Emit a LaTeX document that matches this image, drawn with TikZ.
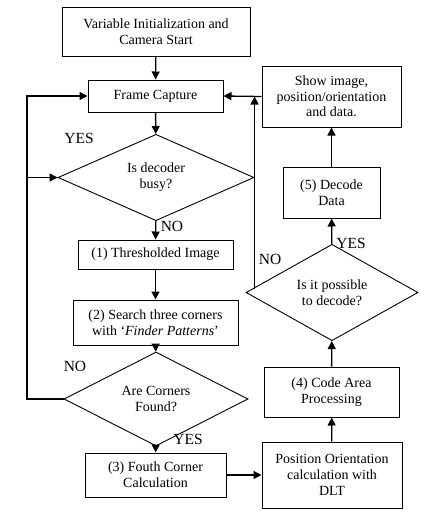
\documentclass[tikz,border=0pt]{standalone}
\usepackage{fontspec}
\setmainfont{Liberation Serif}
\usetikzlibrary{shapes.geometric,arrows.meta}
\begin{document}
\begin{tikzpicture}[x=1pt,y=-1pt,
	box/.style={draw,line width=1pt,align=center,inner sep=0pt,font=\fontsize{14}{15.7}\selectfont},
	decision/.style={draw,diamond,line width=0.9pt,align=center,inner sep=0pt,font=\fontsize{14}{15.7}\selectfont},
	flow/.style={line width=1.3pt,-{Triangle[length=8pt,width=8pt]}},
	answer/.style={font=\fontsize{15.5}{16}\selectfont,inner sep=0pt}]
	\useasboundingbox (0,0) rectangle (446,514);
	\node[box,minimum width=188,minimum height=49] (init) at (156,31.5) {Variable Initialization and\\Camera Start};
	\node[box,minimum width=135,minimum height=32] (capture) at (155.5,96) {Frame Capture};
	\node[decision,minimum width=196,minimum height=77] (busy) at (156,177.5) {Is decoder\\busy?};
	\node[box,minimum width=155,minimum height=29] (thresh) at (155.5,254.5) {(1) Thresholded Image};
	\node[box,minimum width=165,minimum height=45] (search) at (155.5,322.5) {(2) Search three corners\\with ‘\textit{Finder Patterns}’};
	\node[decision,minimum width=184,minimum height=70] (found) at (156,399) {Are Corners\\Found?};
	\node[box,minimum width=141,minimum height=44] (fourth) at (155.5,475) {(3) Fouth Corner\\Calculation};
	\node[box,minimum width=140,minimum height=66] (dlt) at (332,475) {Position Orientation\\calculation with\\DLT};
	\node[box,minimum width=135,minimum height=50] (area) at (331.5,392) {(4) Code Area\\Processing};
	\node[decision,minimum width=172,minimum height=73] (possible) at (332,292.5) {Is it possible\\to decode?};
	\node[box,minimum width=97,minimum height=51] (decode) at (331.5,192.5) {(5) Decode\\Data};
	\node[box,minimum width=139,minimum height=61] (show) at (331.5,96.5) {Show image,\\position/orientation\\and data.};
	\coordinate (railtop) at (27,96);
	\coordinate (railbot) at (27,399);
	\draw[flow] (init) -- (capture);
	\draw[flow] (capture) -- (busy);
	\draw[flow] (busy) -- (thresh);
	\draw[flow] (thresh) -- (search);
	\draw[flow] (search) -- (found);
	\draw[flow] (found) -- (fourth);
	\draw[flow] (fourth) -- (dlt);
	\draw[flow] (dlt) -- (area);
	\draw[flow] (area) -- (possible);
	\draw[flow] (possible) -- (decode);
	\draw[flow] (decode) -- (show);
	\draw[flow] (show.west) -- (capture.east);
	\draw[flow] (found.west) -- (railbot) -- (railtop) -- (capture.west);
	\draw[flow] (railbot |- busy.west) -- (busy.west);
	\draw[flow] ([xshift=9pt,yshift=3.8pt]possible.west) -- ([xshift=9pt]possible.west |- show.west);
	\node[answer] (yesbusy) at (79,138) {YES};
	\node[answer] (nobusy) at (172,226) {NO};
	\node[answer] (nofound) at (75,366) {NO};
	\node[answer] (yesfound) at (188,439) {YES};
	\node[answer] (yesdecode) at (351,243) {YES};
	\node[answer] (nodecode) at (270,259) {NO};
\end{tikzpicture}
\end{document}
